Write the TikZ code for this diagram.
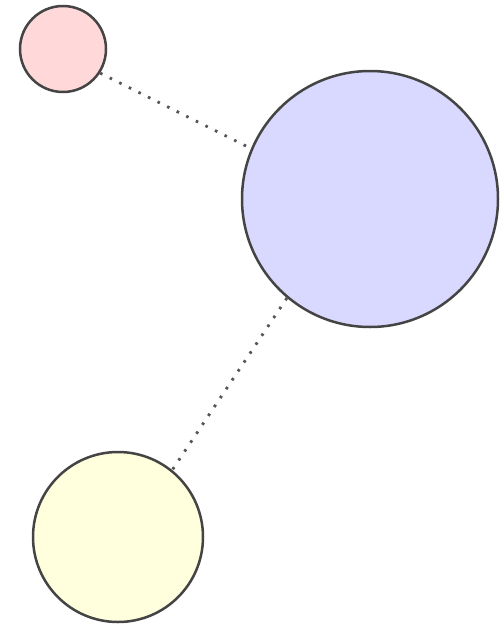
\documentclass[tikz,border=0pt]{standalone}
\definecolor{pinkfill}{HTML}{FFD9D9}
\definecolor{bluefill}{HTML}{D9D9FF}
\definecolor{yellowfill}{HTML}{FFFFDD}
\definecolor{edgegray}{HTML}{444444}
\definecolor{dotgray}{HTML}{555555}
\begin{document}
\begin{tikzpicture}[x=1pt,y=-1pt,
  ball/.style={circle,draw=edgegray,line width=2.5pt,inner sep=0pt},
  link/.style={draw=dotgray,line width=2.8pt,dash pattern=on 2.6pt off 8.1pt}]
\useasboundingbox (0,0) rectangle (502,624);
\node[ball,fill=pinkfill,minimum size=86pt] (p) at (63,49) {};
\node[ball,fill=bluefill,minimum size=256pt] (b) at (370,199) {};
\node[ball,fill=yellowfill,minimum size=170pt] (y) at (118,537) {};
\draw[link] (p.-33) -- (b.157);
\draw[link] (b.230) -- (y.51);
\end{tikzpicture}
\end{document}
